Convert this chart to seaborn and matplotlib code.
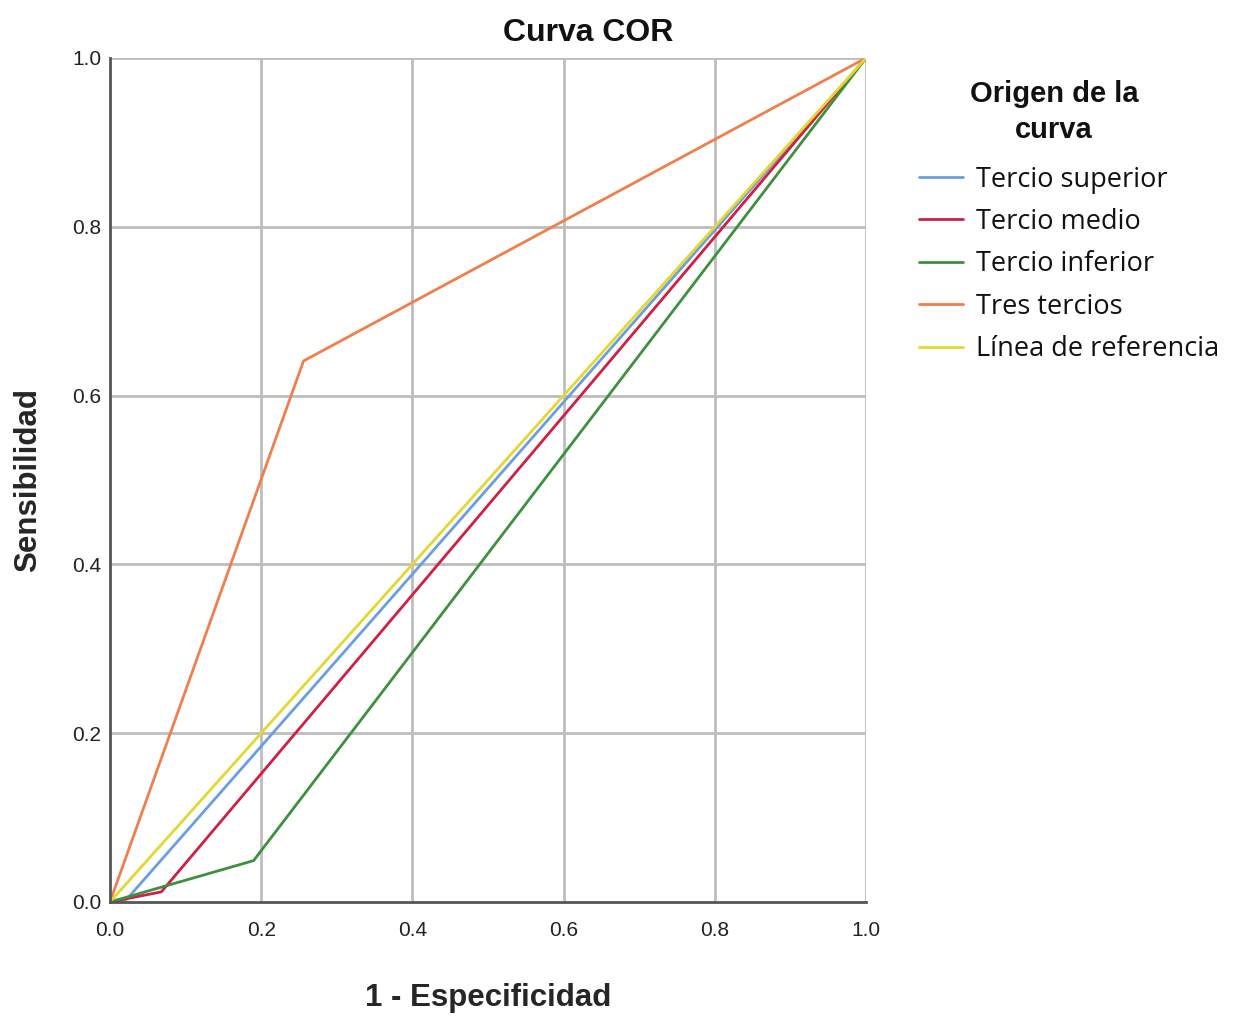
import pandas as pd
import numpy as np
import matplotlib
matplotlib.use("Agg")
import matplotlib.pyplot as plt
import seaborn as sns

# Puntos de cada curva COR (1 - especificidad, sensibilidad)
curvas = ["Tercio superior", "Tercio medio", "Tercio inferior", "Tres tercios", "Línea de referencia"]
x_superior = [0.0, 0.022, 1.0]
y_superior = [0.0, 0.003, 1.0]
x_medio = [0.0, 0.068, 1.0]
y_medio = [0.0, 0.012, 1.0]
x_inferior = [0.0, 0.19, 1.0]
y_inferior = [0.0, 0.049, 1.0]
x_tres = [0.0, 0.256, 1.0]
y_tres = [0.0, 0.641, 1.0]
x_ref = [0.0, 1.0]
y_ref = [0.0, 1.0]

colores = ["#6a9fde", "#cf1f45", "#3f8f3f", "#ef7f4c", "#e3d731"]
ticks = [0.0, 0.2, 0.4, 0.6, 0.8, 1.0]

filas = []
for nombre, xs, ys in zip(curvas,
                          [x_superior, x_medio, x_inferior, x_tres, x_ref],
                          [y_superior, y_medio, y_inferior, y_tres, y_ref]):
    for i, (a, b) in enumerate(zip(xs, ys)):
        filas.append({"curva": nombre, "orden": i, "x": a, "y": b})
df = pd.DataFrame(filas)

sns.set_style("white")
plt.rcParams["font.family"] = ["Liberation Sans", "DejaVu Sans"]

fig = plt.figure(figsize=(12.34, 10.17), dpi=100)
ax = fig.add_axes([0.0891, 0.1131, 0.6127, 0.8299])

for t in ticks[1:]:
    ax.axvline(t, color="#bdbdbd", lw=2, zorder=0)
    ax.axhline(t, color="#bdbdbd", lw=2, zorder=0)

sns.lineplot(data=df, x="x", y="y", hue="curva", hue_order=curvas, palette=colores,
             units="curva", estimator=None, sort=False, lw=2, ax=ax)

ax.set_xlim(0, 1)
ax.set_ylim(0, 1)
ax.set_xticks(ticks)
ax.set_yticks(ticks)
ax.set_xticklabels([f"{t:.1f}" for t in ticks], fontsize=15, color="#222222")
ax.set_yticklabels([f"{t:.1f}" for t in ticks], fontsize=15, color="#222222")
ax.tick_params(axis="x", length=4, width=1.2, color="#555555", pad=10)
ax.tick_params(axis="y", length=4, width=1.2, color="#555555", pad=2)
for s in ["top", "right"]:
    ax.spines[s].set_visible(False)
for s in ["left", "bottom"]:
    ax.spines[s].set_color("#555555")
    ax.spines[s].set_linewidth(2)

ax.set_xlabel("1 - Especificidad", fontsize=22.5, fontweight="bold")
ax.set_ylabel("Sensibilidad", fontsize=22.5, fontweight="bold")
ax.xaxis.set_label_coords(0.5, -0.096)
ax.yaxis.set_label_coords(-0.089, 0.5)
fig.text(0.4765, 0.968, "Curva COR", fontsize=23, fontweight="bold", color="#111111",
         ha="center", va="center")

# Título de la leyenda aparte para controlar su posición
fig.text(1054 / 1234, 1 - 112 / 1017, "Origen de la\ncurva", fontsize=21, fontweight="bold",
         color="#111111", ha="center", va="center", multialignment="center", linespacing=1.4)

leg = ax.legend(loc="upper left", bbox_to_anchor=(1.0696, 0.8725),
                frameon=False, handlelength=1.65, borderaxespad=0, borderpad=0,
                handletextpad=0.48, labelspacing=0.53,
                prop={"family": ["Open Sans", "DejaVu Sans"], "size": 19.5})
for line in leg.get_lines():
    line.set_linewidth(2)
for txt in leg.get_texts():
    txt.set_color("#111111")

fig.savefig("out.png", dpi=100)
